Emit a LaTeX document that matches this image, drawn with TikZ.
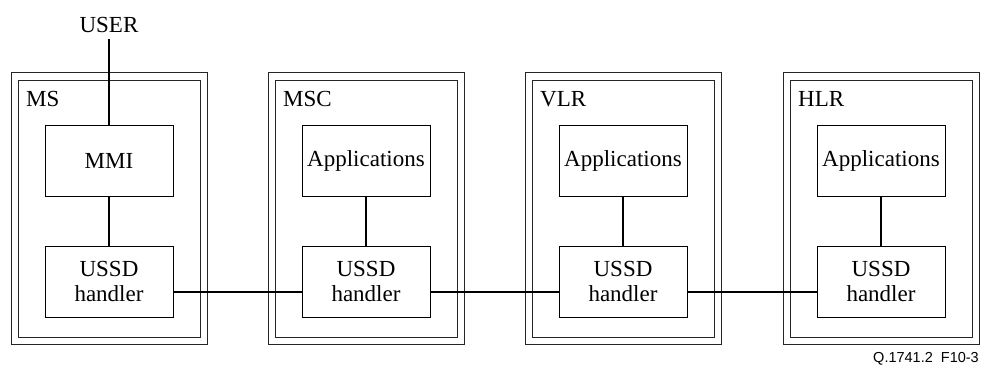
\documentclass[tikz,border=0pt]{standalone}
\usepackage{fontspec}
\setmainfont{Liberation Serif}
\newfontfamily\capfont{Liberation Sans}
\begin{document}
\begin{tikzpicture}[x=1pt,y=-1pt,
  frame/.style={draw=black!85,line width=1pt},
  blk/.style={draw,line width=1pt,minimum width=128pt,minimum height=71pt,inner sep=0pt,align=center,font=\fontsize{23}{26}\selectfont},
  lbl/.style={anchor=base west,inner sep=0pt,font=\fontsize{23}{26}\selectfont},
  conn/.style={line width=1.6pt}]
\useasboundingbox (0,0) rectangle (981,367);
\foreach \n/\x/\lab/\top in {ms/0/MS/MMI, msc/257/MSC/Applications, vlr/514/VLR/Applications, hlr/772/HLR/Applications}{
  \draw[frame] (11+\x,72) rectangle (207+\x,344);
  \draw[frame] (18+\x,80) rectangle (200+\x,337);
  \node[lbl] (\n-lab) at (26+\x,106) {\lab};
  \node[blk] (\n-top) at (109+\x,161) {\top};
  \node[blk] (\n-ussd) at (109+\x,281.5) {USSD\\[-1pt]handler};
  \draw[conn] (\n-top) -- (\n-ussd);
}
\node[anchor=base,inner sep=0pt,font=\fontsize{23}{26}\selectfont] (user) at (109,32) {USER};
\coordinate (userend) at (109,39);
\draw[conn] (ms-top.north) -- (userend);
\draw[conn] ([yshift=-10.5pt]ms-ussd.east) -- ([yshift=-10.5pt]msc-ussd.west);
\draw[conn] ([yshift=-10.5pt]msc-ussd.east) -- ([yshift=-10.5pt]vlr-ussd.west);
\draw[conn] ([yshift=-10.5pt]vlr-ussd.east) -- ([yshift=-10.5pt]hlr-ussd.west);
\node[anchor=base east,inner sep=0pt,font=\capfont\fontsize{14.5}{17}\selectfont] (cap) at (979,362) {Q.1741.2\ \ F10-3};
\end{tikzpicture}
\end{document}
